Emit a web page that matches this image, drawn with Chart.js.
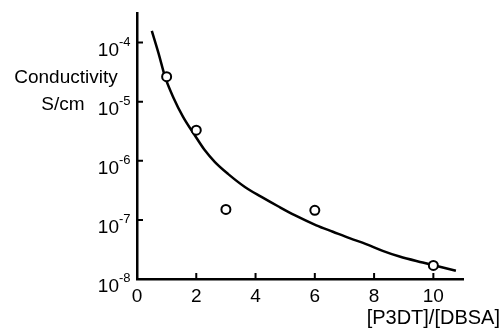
<!DOCTYPE html>
<html>
<head>
<meta charset="utf-8">
<script src="https://cdn.jsdelivr.net/npm/chart.js@4.4.0/dist/chart.umd.min.js"></script>
<style>
  html, body { margin: 0; padding: 0; background: #fff; }
</style>
</head>
<body>
<canvas id="chart" width="502" height="328"></canvas>
<script>
// measured points: [P3DT]/[DBSA] ratio vs conductivity (S/cm)
const ratio = [1, 2, 3, 6, 10];
const conductivity = [2.65e-5, 3.3e-6, 1.5e-7, 1.45e-7, 1.7e-8];

// fitted curve
const fitRatio = [0.5, 0.73, 0.95, 1.23, 1.55, 1.95, 2.29, 2.63, 3.07, 3.64, 4.2, 4.76, 5.32, 6.05, 6.61, 7.17, 7.73, 8.29, 8.86, 9.64, 10.76];
const fitValues = [1.58e-4, 6.5e-5, 2.6e-5, 1.17e-5, 5.6e-6, 2.7e-6, 1.5e-6, 9.5e-7, 6.0e-7, 3.6e-7, 2.45e-7, 1.7e-7, 1.2e-7, 8.1e-8, 6.3e-8, 4.9e-8, 3.9e-8, 3.0e-8, 2.4e-8, 1.9e-8, 1.38e-8];

// axis ticks
const xTicks = [0, 2, 4, 6, 8, 10];
const yExponents = [-8, -7, -6, -5, -4];

const FONT = '"Liberation Sans", Arial, sans-serif';

// inward tick marks, 10^n labels and horizontal titles
const axisDecor = {
    id: 'axisDecor',
    afterDraw(chart) {
        const ctx = chart.ctx;
        const xs = chart.scales.x;
        const ys = chart.scales.y;
        const area = chart.chartArea;
        ctx.save();
        ctx.strokeStyle = '#000';
        ctx.lineWidth = 2;
        ctx.beginPath();
        xTicks.forEach(v => {
            if (v === 0) return;
            const px = xs.getPixelForValue(v);
            ctx.moveTo(px, area.bottom);
            ctx.lineTo(px, area.bottom - 6);
        });
        yExponents.forEach(e => {
            const py = ys.getPixelForValue(Math.pow(10, e));
            ctx.moveTo(area.left, py);
            ctx.lineTo(area.left + 6, py);
        });
        ctx.stroke();

        ctx.fillStyle = '#000';
        ctx.textBaseline = 'alphabetic';
        yExponents.forEach(e => {
            const py = ys.getPixelForValue(Math.pow(10, e));
            ctx.font = '19px ' + FONT;
            ctx.textAlign = 'right';
            ctx.fillText('10', 119, py + 13);
            ctx.font = '13px ' + FONT;
            ctx.textAlign = 'left';
            ctx.fillText('-' + Math.abs(e), 119, py + 3);
        });

        ctx.font = '19px ' + FONT;
        ctx.textAlign = 'center';
        ctx.fillText('Conductivity', 66, 83);
        ctx.fillText('S/cm', 63, 110);
        ctx.textAlign = 'right';
        ctx.font = '20px ' + FONT;
        ctx.fillText('[P3DT]/[DBSA]', 500, 324);
        ctx.restore();
    }
};

const ctx = document.getElementById('chart').getContext('2d');
const chart = new Chart(ctx, {
    type: 'scatter',
    data: {
        datasets: [{
            label: 'measured',
            data: ratio.map((r, i) => ({ x: r, y: conductivity[i] })),
            pointRadius: 4.5,
            pointBackgroundColor: '#fff',
            pointBorderColor: '#000',
            pointBorderWidth: 2,
            showLine: false
        }, {
            label: 'fit',
            data: fitRatio.map((r, i) => ({ x: r, y: fitValues[i] })),
            showLine: true,
            borderColor: '#000',
            borderWidth: 2.5,
            pointRadius: 0,
            cubicInterpolationMode: 'monotone'
        }]
    },
    options: {
        responsive: false,
        animation: false,
        layout: { padding: { top: 13, right: 39, left: 0, bottom: 0 } },
        plugins: { legend: { display: false }, tooltip: { enabled: false } },
        scales: {
            x: {
                type: 'linear',
                min: 0,
                max: 11,
                afterBuildTicks: scale => { scale.ticks = xTicks.map(v => ({ value: v })); },
                afterFit: scale => { scale.height = 49; },
                grid: { display: false, drawTicks: false },
                border: { display: true, color: '#000', width: 2.5 },
                ticks: { color: '#000', padding: 6, maxRotation: 0, font: { family: FONT, size: 19 } }
            },
            y: {
                type: 'logarithmic',
                min: 1e-8,
                max: Math.pow(10, -3.5),
                afterFit: scale => { scale.width = 137; },
                grid: { display: false, drawTicks: false },
                border: { display: true, color: '#000', width: 2.5 },
                ticks: { display: false }
            }
        }
    },
    plugins: [axisDecor]
});
</script>
</body>
</html>
